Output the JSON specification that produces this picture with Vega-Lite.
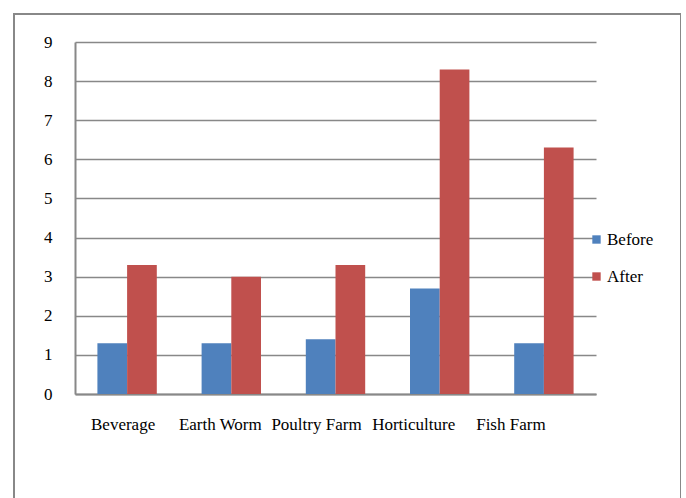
{
  "$schema": "https://vega.github.io/schema/vega-lite/v6.json",
  "width": 667,
  "height": 500,
  "autosize": {"type": "none"},
  "padding": {"left": 14, "top": 14, "right": 0, "bottom": 0},
  "background": "white",
  "config": {
    "view": {"stroke": "#888888", "strokeWidth": 2},
    "font": "Liberation Serif"
  },
  "data": {
    "values": [
      {"category": "Beverage", "period": "Before", "value": 1.3},
      {"category": "Beverage", "period": "After", "value": 3.3},
      {"category": "Earth Worm", "period": "Before", "value": 1.3},
      {"category": "Earth Worm", "period": "After", "value": 3.0},
      {"category": "Poultry Farm", "period": "Before", "value": 1.4},
      {"category": "Poultry Farm", "period": "After", "value": 3.3},
      {"category": "Horticulture", "period": "Before", "value": 2.7},
      {"category": "Horticulture", "period": "After", "value": 8.3},
      {"category": "Fish Farm", "period": "Before", "value": 1.3},
      {"category": "Fish Farm", "period": "After", "value": 6.3}
    ]
  },
  "mark": {"type": "bar"},
  "encoding": {
    "x": {
      "field": "category",
      "type": "nominal",
      "sort": null,
      "scale": {"range": [61, 582], "paddingInner": 0.43, "paddingOuter": 0.215},
      "axis": {
        "title": null,
        "orient": "bottom",
        "offset": -120,
        "labelAngle": 0,
        "labelFont": "Liberation Serif",
        "labelFontSize": 17,
        "labelColor": "black",
        "labelPadding": 22,
        "labelOffset": {
          "condition": [
            {"test": "datum.value == 'Beverage'", "value": -4},
            {"test": "datum.value == 'Earth Worm'", "value": -11},
            {"test": "datum.value == 'Poultry Farm'", "value": -19},
            {"test": "datum.value == 'Horticulture'", "value": -26}
          ],
          "value": -33
        },
        "ticks": false,
        "domainColor": "#888888",
        "domainWidth": 2,
        "grid": false
      }
    },
    "xOffset": {
      "field": "period",
      "type": "nominal",
      "sort": ["Before", "After"],
      "scale": {"paddingInner": 0, "paddingOuter": 0}
    },
    "y": {
      "field": "value",
      "type": "quantitative",
      "scale": {"domain": [0, 9], "range": [380, 28], "nice": false},
      "axis": {
        "title": null,
        "orient": "left",
        "offset": -61,
        "values": [0, 1, 2, 3, 4, 5, 6, 7, 8, 9],
        "labelFont": "Liberation Serif",
        "labelFontSize": 17,
        "labelColor": "black",
        "labelPadding": 23,
        "ticks": false,
        "domainColor": "#888888",
        "domainWidth": 2,
        "grid": true,
        "gridColor": "#888888",
        "gridWidth": 1.5
      }
    },
    "color": {
      "field": "period",
      "type": "nominal",
      "sort": ["Before", "After"],
      "scale": {"domain": ["Before", "After"], "range": ["#4F81BD", "#C0504D"]},
      "legend": {
        "title": null,
        "orient": "none",
        "legendX": 574,
        "legendY": 217,
        "symbolType": "square",
        "symbolSize": 70,
        "symbolStrokeWidth": 0,
        "labelFont": "Liberation Serif",
        "labelFontSize": 17,
        "labelColor": "black",
        "labelOffset": 2,
        "rowPadding": 19,
        "padding": 0
      }
    }
  }
}
